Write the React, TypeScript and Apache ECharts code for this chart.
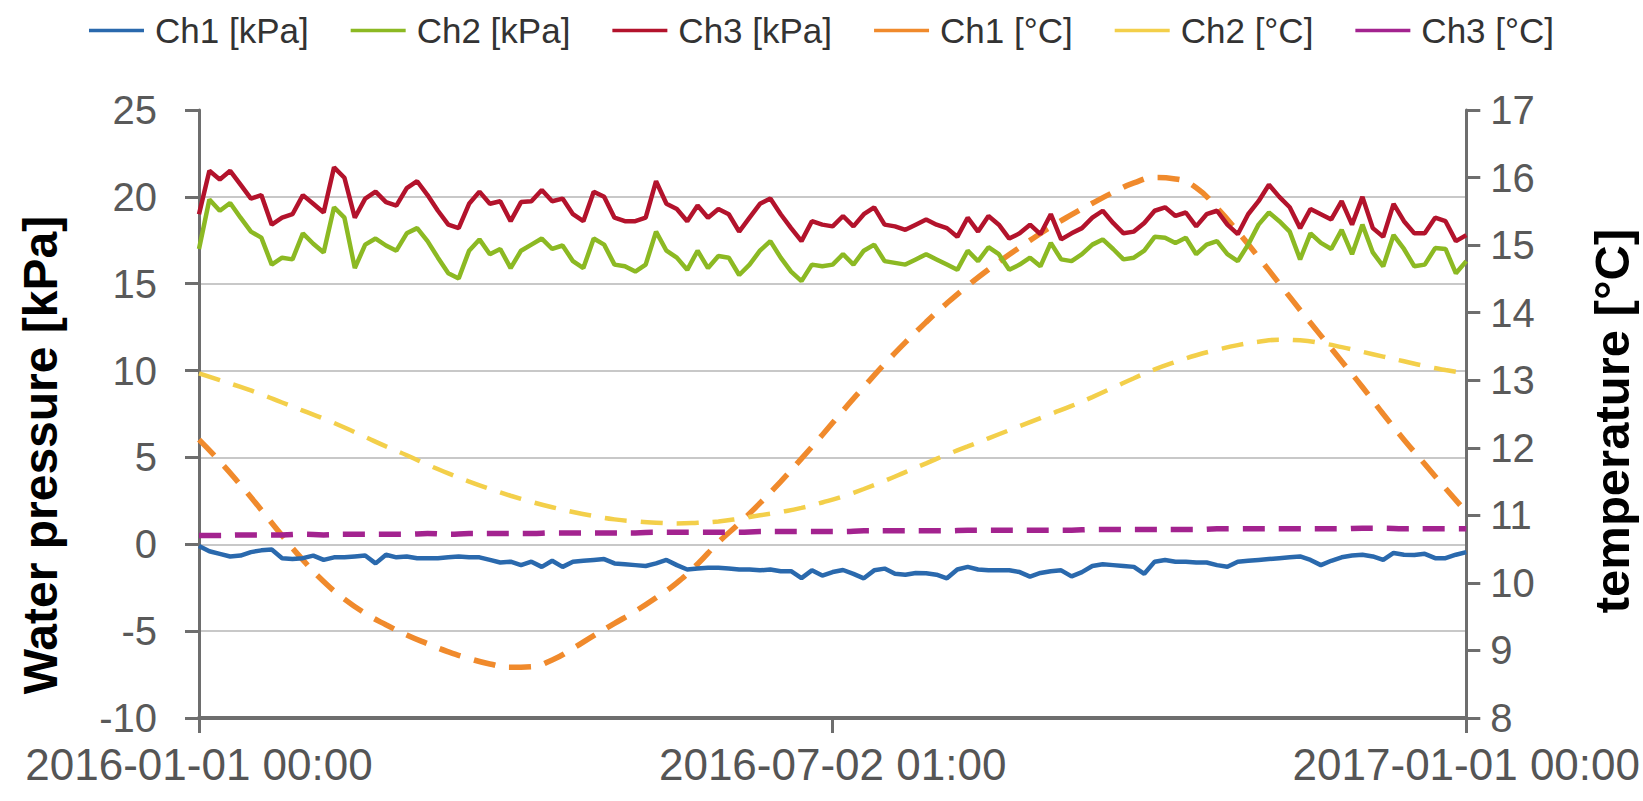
import React, { useEffect, useRef } from "react";
import * as echarts from "echarts";

// ---- Axis ticks ----
const xTickDays = [0, 183, 366];
const xTickLabels = ["2016-01-01 00:00", "2016-07-02 01:00", "2017-01-01 00:00"];

// ---- Series names ----
const seriesNames = ["Ch1 [kPa]", "Ch2 [kPa]", "Ch3 [kPa]", "Ch1 [°C]", "Ch2 [°C]", "Ch3 [°C]"];

// Pressure samples every 3 days (day 0 .. 366)
const PRESS_STEP = 3;
const ch1Kpa = [
  -0.1, -0.4, -0.55, -0.7, -0.65, -0.45, -0.35, -0.3, -0.8, -0.85,
  -0.8, -0.65, -0.9, -0.75, -0.75, -0.7, -0.65, -1.1, -0.6, -0.75,
  -0.7, -0.8, -0.8, -0.8, -0.75, -0.7, -0.75, -0.75, -0.9, -1.05,
  -1.0, -1.2, -1.0, -1.3, -0.95, -1.3, -1.0, -0.95, -0.9, -0.85,
  -1.1, -1.15, -1.2, -1.25, -1.1, -0.9, -1.2, -1.45, -1.4, -1.35,
  -1.35, -1.4, -1.45, -1.45, -1.5, -1.45, -1.55, -1.55, -1.95, -1.5,
  -1.8, -1.6, -1.48, -1.7, -1.96, -1.5, -1.4, -1.7, -1.75, -1.65,
  -1.67, -1.75, -1.96, -1.45, -1.3, -1.45, -1.5, -1.5, -1.5, -1.6,
  -1.86, -1.65, -1.55, -1.5, -1.85, -1.6, -1.25, -1.15, -1.2, -1.25,
  -1.3, -1.7, -1.0, -0.9, -1.0, -1.0, -1.05, -1.05, -1.2, -1.29,
  -1.0, -0.95, -0.9, -0.85, -0.8, -0.75, -0.7, -0.9, -1.2, -0.95,
  -0.75, -0.65, -0.6, -0.7, -0.9, -0.5, -0.6, -0.62, -0.55, -0.8,
  -0.8, -0.6, -0.45,
];
const ch2Kpa = [
  17.0, 19.85, 19.2, 19.65, 18.8, 18.0, 17.65, 16.1, 16.5, 16.4,
  17.9, 17.3, 16.8, 19.4, 18.8, 15.9, 17.25, 17.6, 17.2, 16.9,
  17.9, 18.2, 17.45, 16.5, 15.6, 15.3, 16.9, 17.55, 16.7, 17.0,
  15.9, 16.9, 17.25, 17.6, 17.0, 17.2, 16.3, 15.9, 17.6, 17.25,
  16.1, 16.0, 15.7, 16.1, 18.0, 16.9, 16.5, 15.8, 16.9, 15.9,
  16.6, 16.5, 15.5, 16.1, 16.9, 17.45, 16.5, 15.7, 15.15, 16.1,
  16.0, 16.1, 16.7, 16.1, 16.9, 17.25, 16.3, 16.2, 16.1, 16.4,
  16.7, 16.4, 16.1, 15.8, 16.9, 16.3, 17.1, 16.7, 15.8, 16.1,
  16.5, 16.0, 17.35, 16.4, 16.3, 16.7, 17.25, 17.55, 17.0, 16.4,
  16.5, 16.9, 17.7, 17.65, 17.35, 17.65, 16.7, 17.25, 17.45, 16.7,
  16.3, 17.25, 18.4, 19.1, 18.6, 18.0, 16.4, 17.9, 17.35, 17.0,
  18.1, 16.7, 18.4, 16.8, 16.0, 17.8, 17.0, 16.0, 16.1, 17.05,
  17.0, 15.6, 16.3,
];
const ch3Kpa = [
  19.0, 21.5, 21.0, 21.5, 20.7, 19.9, 20.1, 18.4, 18.8, 19.0,
  20.1, 19.6, 19.1, 21.7, 21.1, 18.8, 19.9, 20.3, 19.7, 19.5,
  20.5, 20.9, 20.1, 19.2, 18.4, 18.2, 19.6, 20.3, 19.6, 19.75,
  18.6, 19.7, 19.75, 20.4, 19.75, 19.9, 19.0, 18.6, 20.3, 20.0,
  18.8, 18.6, 18.6, 18.8, 20.9, 19.6, 19.3, 18.6, 19.5, 18.8,
  19.3, 19.0, 18.0, 18.8, 19.6, 19.9, 19.0, 18.2, 17.45, 18.6,
  18.4, 18.3, 18.9, 18.3, 19.0, 19.4, 18.4, 18.3, 18.1, 18.4,
  18.7, 18.4, 18.2, 17.7, 18.8, 18.0, 18.9, 18.4, 17.6, 17.9,
  18.4, 17.85, 19.0, 17.55, 17.9, 18.2, 18.8, 19.2, 18.5, 17.9,
  18.0, 18.5, 19.2, 19.4, 18.9, 19.1, 18.3, 19.0, 19.2, 18.4,
  17.85, 19.0, 19.75, 20.7, 20.0, 19.4, 18.2, 19.3, 19.0, 18.7,
  19.75, 18.4, 20.0, 18.2, 17.7, 19.6, 18.6, 17.9, 17.9, 18.8,
  18.6, 17.45, 17.8,
];

// Temperature samples every 6 days (day 0 .. 366)
const TEMP_STEP = 6;
const ch1Temp = [
  12.12, 11.8, 11.45, 11.08, 10.7, 10.34, 10.02, 9.76, 9.55, 9.38,
  9.23, 9.1, 8.98, 8.88, 8.8, 8.75, 8.76, 8.86, 9.03, 9.22,
  9.4, 9.58, 9.78, 10.0, 10.28, 10.6, 10.88, 11.18, 11.5, 11.84,
  12.19, 12.55, 12.9, 13.24, 13.56, 13.86, 14.14, 14.4, 14.64, 14.86,
  15.07, 15.27, 15.45, 15.62, 15.78, 15.92, 16.0, 15.98, 15.85, 15.55,
  15.2, 14.82, 14.43, 14.04, 13.66, 13.28, 12.9, 12.5, 12.12, 11.76,
  11.4, 11.05,
];
const ch2Temp = [
  13.1, 13.0, 12.9, 12.79, 12.67, 12.55, 12.43, 12.3, 12.16, 12.02,
  11.89, 11.75, 11.62, 11.5, 11.39, 11.29, 11.2, 11.12, 11.05, 10.99,
  10.94, 10.91, 10.89, 10.88, 10.89, 10.91, 10.95, 11.0, 11.05, 11.11,
  11.19, 11.28, 11.39, 11.51, 11.64, 11.77, 11.9, 12.02, 12.14, 12.26,
  12.38, 12.5, 12.62, 12.75, 12.89, 13.03, 13.16, 13.27, 13.37, 13.45,
  13.52, 13.57, 13.6, 13.59, 13.55, 13.49, 13.42, 13.35, 13.28, 13.21,
  13.15, 13.1,
];
const ch3Temp = [
  10.7, 10.7, 10.71, 10.71, 10.71, 10.72, 10.71, 10.72, 10.72, 10.72,
  10.72, 10.73, 10.72, 10.73, 10.73, 10.73, 10.73, 10.74, 10.74, 10.74,
  10.74, 10.74, 10.75, 10.75, 10.75, 10.75, 10.75, 10.76, 10.76, 10.76,
  10.76, 10.76, 10.77, 10.77, 10.77, 10.77, 10.77, 10.78, 10.78, 10.78,
  10.78, 10.78, 10.78, 10.79, 10.79, 10.79, 10.79, 10.79, 10.79, 10.8,
  10.8, 10.8, 10.8, 10.8, 10.8, 10.8, 10.81, 10.81, 10.8, 10.8,
  10.8, 10.8,
];

const colors = ["#2a69ad", "#8cb923", "#b3132c", "#f08a2c", "#f3cf4a", "#a3238f"];
const FONT = '"Liberation Sans", Arial, Helvetica, sans-serif';

const toPairs = (vals: number[], step: number) => vals.map((v, i) => [i * step, v]);

export default function App() {
  const ref = useRef<HTMLDivElement>(null);
  useEffect(() => {
    const chart = echarts.init(ref.current!, null, { renderer: "svg" });
    const pressData = [ch1Kpa, ch2Kpa, ch3Kpa];
    const tempData = [ch1Temp, ch2Temp, ch3Temp];
    const series: any[] = [];
    pressData.forEach((vals, i) => {
      series.push({
        name: seriesNames[i],
        type: "line",
        yAxisIndex: 0,
        data: toPairs(vals, PRESS_STEP),
        symbol: "none",
        z: 3,
        lineStyle: { color: colors[i], width: 4.5 },
        itemStyle: { color: colors[i] },
      });
    });
    tempData.forEach((vals, i) => {
      series.push({
        name: seriesNames[i + 3],
        type: "line",
        yAxisIndex: 1,
        data: toPairs(vals, TEMP_STEP),
        symbol: "none",
        smooth: 0.5,
        z: 2,
        lineStyle: { color: colors[i + 3], width: i === 1 ? 4.5 : 5.5, type: [22, 14] },
        itemStyle: { color: colors[i + 3] },
      });
    });
    const axisLineStyle = { color: "#6e6e6e", width: 3 };
    chart.setOption({
      animation: false,
      backgroundColor: "#ffffff",
      legend: {
        left: "center",
        top: 8,
        icon: "rect",
        itemWidth: 55,
        itemHeight: 3.5,
        itemGap: 42,
        data: seriesNames,
        textStyle: { fontSize: 35, color: "#333333", fontFamily: FONT, padding: [0, 0, 0, 6] },
      },
      grid: { left: 199, right: 171, top: 110, bottom: 83, containLabel: false },
      xAxis: {
        type: "value",
        min: 0,
        max: 366,
        interval: 183,
        axisLine: { show: true, onZero: false, lineStyle: { color: "#6e6e6e", width: 4 } },
        axisTick: { show: true, length: 15, lineStyle: axisLineStyle },
        splitLine: { show: false },
        axisLabel: {
          fontSize: 44,
          lineHeight: 44,
          color: "#555555",
          fontFamily: FONT,
          margin: 24,
          showMinLabel: true,
          showMaxLabel: true,
          formatter: (v: number) => {
            const k = xTickDays.indexOf(Math.round(v));
            return k >= 0 ? xTickLabels[k] : "";
          },
        },
      },
      yAxis: [
        {
          type: "value",
          min: -10,
          max: 25,
          interval: 5,
          position: "left",
          axisLine: { show: true, onZero: false, lineStyle: axisLineStyle },
          axisTick: { show: true, length: 14, lineStyle: axisLineStyle },
          splitLine: { show: true, showMaxLine: false, lineStyle: { color: "#c8c8c8", width: 2 } },
          axisLabel: { fontSize: 40, lineHeight: 36, color: "#595959", fontFamily: FONT, margin: 42 },
        },
        {
          type: "value",
          min: 8,
          max: 17,
          interval: 1,
          position: "right",
          axisLine: { show: true, onZero: false, lineStyle: axisLineStyle },
          axisTick: { show: true, length: 14, lineStyle: axisLineStyle },
          splitLine: { show: false },
          axisLabel: { fontSize: 40, lineHeight: 36, color: "#595959", fontFamily: FONT, margin: 24 },
        },
      ],
      graphic: [
        {
          type: "text",
          x: 40,
          y: 455,
          rotation: Math.PI / 2,
          style: {
            text: "Water pressure [kPa]",
            fontSize: 48,
            fontWeight: "bold",
            fontFamily: FONT,
            fill: "#000000",
            align: "center",
            verticalAlign: "middle",
          },
        },
        {
          type: "text",
          x: 1612,
          y: 421,
          rotation: Math.PI / 2,
          style: {
            text: "temperature [°C]",
            fontSize: 49,
            fontWeight: "bold",
            fontFamily: FONT,
            fill: "#000000",
            align: "center",
            verticalAlign: "middle",
          },
        },
      ],
      series,
    });
    return () => chart.dispose();
  }, []);
  return (
    <div
      ref={ref}
      style={{ position: "fixed", left: 0, top: 0, width: 1643, height: 801 }}
    />
  );
}
